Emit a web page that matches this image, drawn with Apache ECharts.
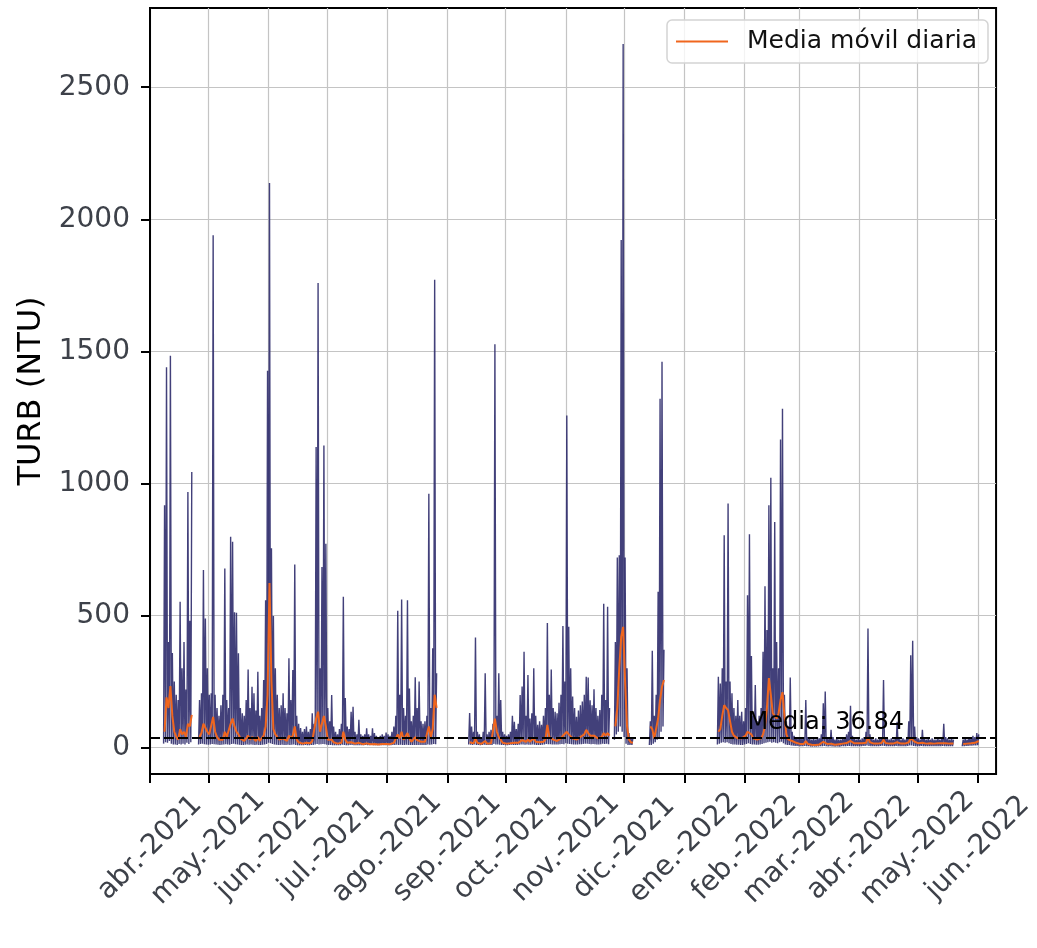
<!DOCTYPE html>
<html>
<head>
<meta charset="utf-8">
<script src="https://cdn.jsdelivr.net/npm/echarts@6/dist/echarts.min.js"></script>
<style>html,body{margin:0;padding:0;background:#fff}#c{width:1037px;height:948px}</style>
</head>
<body>
<div id="c"></div>
<script>
// ---- tick labels ----
const monthTicks = ['2021-04-01','2021-05-01','2021-06-01','2021-07-01','2021-08-01','2021-09-01','2021-10-01','2021-11-01','2021-12-01','2022-01-01','2022-02-01','2022-03-01','2022-04-01','2022-05-01','2022-06-01'];
const monthLabels = ['abr.-2021','may.-2021','jun.-2021','jul.-2021','ago.-2021','sep.-2021','oct.-2021','nov.-2021','dic.-2021','ene.-2022','feb.-2022','mar.-2022','abr.-2022','may.-2022','jun.-2022'];
const yTicks = [0, 500, 1000, 1500, 2000, 2500];
const meanValue = 36.84;
const seriesNames = ['TURB', 'Media móvil diaria'];

// ---- data segments (daily max, daily min, daily moving average) ----
const segStarts = ['2021-04-08','2021-04-26','2021-09-12','2021-11-26','2021-12-14','2022-01-18','2022-05-24'];

const hiA = [917,1440,400,1483,358,250,200,180,552,300,400,220,968,480,1043];
const loA = [15,20,18,25,15,12,12,10,14,12,15,12,18,14,20];
const maA = [60,190,150,233,120,60,40,30,70,50,60,40,90,80,124];

const hiB = [180,206,672,489,300,200,206,1940,200,150,
120,160,200,678,180,150,798,779,512,510,
357,150,130,120,180,296,150,230,206,140,
287,120,150,256,558,1427,2137,755,498,300,
200,150,160,206,150,130,338,180,294,693,
120,90,74,60,70,80,60,70,130,90,
1138,1759,300,684,1144,772,150,100,199,80,
60,50,70,90,571,188,80,70,136,155,
60,50,105,50,45,50,73,50,45,73,
55,45,40,45,50,45,57,50,45,60,
80,120,518,200,561,150,120,558,224,100,
120,266,150,250,100,90,100,120,961,150,
376,1771,281];
const loB = [12,14,15,13,12,11,12,14,13,12,
11,10,11,12,13,12,11,14,15,13,
12,11,10,10,11,12,11,12,11,10,
11,10,10,11,12,14,18,16,14,12,
11,10,10,11,10,10,11,10,11,12,
10,9,9,9,9,10,9,9,10,10,
12,14,12,13,14,13,11,10,10,9,
9,9,9,9,11,10,9,9,10,10,
9,9,9,9,9,9,10,9,9,10,
9,9,9,9,9,9,9,9,9,9,
10,10,11,10,11,10,10,11,10,10,
10,10,10,10,10,10,10,10,12,11,
12,14,13];
const maB = [40,55,90,75,60,50,45,116,60,40,
30,25,30,60,40,35,90,110,80,60,
50,35,30,25,30,45,30,40,35,25,
40,25,30,45,80,200,623,250,70,50,
40,30,30,35,30,25,45,35,45,80,
30,20,18,15,16,18,15,16,25,20,
110,136,60,90,120,80,30,25,30,20,
18,15,16,18,60,30,18,16,20,22,
15,14,18,14,13,14,16,14,13,16,
14,13,12,13,14,13,14,13,13,15,
18,25,50,35,60,30,25,55,35,22,
25,40,28,35,22,20,22,25,80,40,
70,200,150];

const hiC = [131,80,60,417,60,50,40,60,281,50,
60,67,90,1527,120,281,180,60,50,45,
50,60,120,98,70,90,199,231,363,120,
275,110,130,300,120,86,100,86,120,150,
472,200,296,150,136,130,170,200,460,250,
1257,457,300,193,150,117,140,160,174,200,
268,265,179,160,221,150,120,142,200,545,
180,533,150];
const loC = [12,11,10,12,10,10,9,10,11,10,
10,10,10,14,12,12,11,10,10,9,
9,10,11,10,10,10,11,12,12,11,
12,11,11,12,11,10,10,10,11,12,
14,13,13,12,12,12,12,13,14,13,
16,15,14,13,12,12,12,13,13,14,
15,15,14,13,14,13,12,12,13,15,
14,15,13];
const maC = [20,18,16,35,18,15,14,15,25,15,
15,16,20,110,60,40,30,18,16,15,
15,16,20,18,16,18,25,28,35,22,
30,22,24,35,22,18,20,18,22,30,
86,40,45,30,25,25,30,35,45,40,
60,50,45,35,35,30,35,40,45,50,
67,55,45,40,45,40,35,35,40,55,
45,55,45];

const hiD = [400,720,728,1922,2664,720,300,55,40,35];
const loD = [30,50,60,80,60,40,15,10,10,10];
const maD = [80,150,300,420,457,250,80,30,20,18];

const hiE = [100,367,120,200,590,1321,1461,370];
const loE = [10,10,15,20,30,40,60,80];
const maE = [80,70,35,40,110,180,230,256];

const hiF = [268,243,300,804,250,924,250,206,150,120,
180,120,136,100,150,577,808,347,120,237,
100,120,150,363,611,445,917,1022,300,854,
400,300,1166,1283,200,100,80,265,60,45,
40,35,40,35,40,180,40,35,30,35,
30,40,35,50,168,212,40,35,67,40,
30,35,30,30,35,40,50,60,158,45,
35,30,35,30,35,40,60,451,50,35,
30,35,30,35,40,256,40,35,30,35,
30,35,98,35,30,35,30,35,100,350,
404,80,40,35,30,67,35,30,35,30,
35,30,30,35,30,35,90,40,35,30,
35,30];
const loF = [12,15,18,20,18,20,16,14,12,12,
11,11,10,10,12,14,16,14,12,12,
11,11,12,14,16,18,20,22,18,20,
18,16,20,22,16,12,10,10,8,7,
6,6,5,5,5,6,5,5,4,4,
4,4,4,5,5,6,5,4,5,4,
4,4,4,4,5,5,5,6,6,5,
5,5,5,5,5,6,6,8,6,5,
5,5,5,5,6,7,6,5,5,5,
5,5,6,5,5,5,5,5,6,8,
8,6,5,5,5,6,5,5,5,5,
5,5,5,5,5,5,6,5,5,5,
5,5];
const maF = [60,70,120,161,150,142,100,60,45,40,
35,30,35,30,45,60,65,50,35,40,
30,30,35,50,80,150,263,200,130,120,
110,130,180,210,120,50,30,35,25,20,
18,15,14,13,14,25,14,12,11,10,
10,11,12,13,22,25,14,12,15,12,
11,12,13,14,15,16,17,18,25,18,
16,15,16,15,16,17,18,40,20,16,
15,16,15,16,17,30,17,16,15,16,
15,16,20,16,15,16,15,16,20,35,
40,22,17,16,15,18,16,15,15,16,
15,15,15,16,15,16,20,16,15,15,
15,15];

const hiG = [30,35,30,40,35,45,40,55,50];
const loG = [5,5,6,6,7,7,8,8,9];
const maG = [14,15,15,16,16,18,18,22,25];

// ---- build series data ----
function toTs(s) {
  const p = s.split('-').map(Number);
  return new Date(p[0], p[1] - 1, p[2]).getTime();
}
const DAY = 86400000;
const segHi = [hiA, hiB, hiC, hiD, hiE, hiF, hiG];
const segLo = [loA, loB, loC, loD, loE, loF, loG];
const segMa = [maA, maB, maC, maD, maE, maF, maG];
const rawData = [];
const avgData = [];
segStarts.forEach(function (s, k) {
  const t0 = toTs(s);
  const n = segHi[k].length;
  for (let i = 0; i < n; i++) {
    const t = t0 + i * DAY;
    rawData.push([t, segLo[k][i]]);
    rawData.push([t + DAY / 2, segHi[k][i]]);
    avgData.push([t + DAY / 2, segMa[k][i]]);
  }
  rawData.push([t0 + n * DAY, '-']);
  avgData.push([t0 + n * DAY, '-']);
});
const tickTs = monthTicks.map(toTs);

const FONT = 'DejaVu Sans';
const chart = echarts.init(document.getElementById('c'), null, {renderer: 'canvas'});
chart.setOption({
  animation: false,
  backgroundColor: '#ffffff',
  grid: {left: 150, right: 39, top: 8, bottom: 174, show: true, borderColor: '#000', borderWidth: 2, containLabel: false},
  legend: {
    data: [seriesNames[1]],
    left: 667, top: 20,
    orient: 'horizontal',
    padding: [9, 11, 9, 9],
    itemWidth: 52, itemHeight: 2,
    icon: 'rect',
    backgroundColor: 'rgba(255,255,255,0.8)',
    borderColor: '#d4d4d4', borderWidth: 1.5, borderRadius: 5,
    textStyle: {fontFamily: FONT, fontSize: 25, color: '#111', padding: [0, 0, 0, 14]}
  },
  xAxis: {
    type: 'value',
    min: toTs('2021-04-01'),
    max: new Date(2022, 5, 10, 10).getTime(),
    axisLine: {show: true, onZero: false, lineStyle: {color: '#000', width: 2}},
    axisTick: {show: true, length: 9, lineStyle: {color: '#000', width: 2}, customValues: tickTs},
    splitLine: {show: true, lineStyle: {color: '#c4c4c4', width: 1.2}},
    axisLabel: {
      customValues: tickTs,
      rotate: 45, align: 'center', verticalAlign: 'middle', margin: 74,
      fontFamily: FONT, fontSize: 28, color: '#3d4149',
      hideOverlap: false,
      formatter: function (v) {
        for (let i = 0; i < tickTs.length; i++) {
          if (Math.abs(tickTs[i] - v) < DAY) return monthLabels[i];
        }
        return '';
      }
    }
  },
  yAxis: {
    type: 'value',
    min: -100, max: 2800,
    name: 'TURB (NTU)',
    nameLocation: 'middle', nameGap: 91,
    nameTextStyle: {fontFamily: FONT, fontSize: 32, color: '#000'},
    axisLine: {show: true, onZero: false, lineStyle: {color: '#000', width: 2}},
    axisTick: {show: true, length: 9, lineStyle: {color: '#000', width: 2}, customValues: yTicks},
    splitLine: {show: true, lineStyle: {color: '#c4c4c4', width: 1.2}},
    axisLabel: {customValues: yTicks, margin: 20, fontFamily: FONT, fontSize: 28, color: '#3d4149',
      formatter: function (v) { return String(v); }}
  },
  series: [
    {
      name: seriesNames[0], type: 'line', data: rawData,
      showSymbol: false, symbol: 'none', sampling: null, connectNulls: false,
      lineStyle: {color: '#2d2b6b', width: 1.4, opacity: 0.9},
      itemStyle: {color: '#2d2b6b'}, z: 2, silent: true
    },
    {
      name: seriesNames[1], type: 'line', data: avgData,
      showSymbol: false, symbol: 'none', connectNulls: false,
      lineStyle: {color: '#f0661e', width: 2},
      itemStyle: {color: '#f0661e'}, z: 3, silent: true,
      markLine: {
        silent: true, symbol: ['none', 'none'],
        label: {show: false},
        lineStyle: {color: '#000', type: [10, 4], width: 2},
        data: [{yAxis: meanValue}]
      },
      markPoint: {
        silent: true,
        symbol: 'rect', symbolSize: [2, 2],
        itemStyle: {color: 'rgba(0,0,0,0)'},
        label: {show: true, position: 'right', distance: 0, offset: [0, -15], fontFamily: FONT, fontSize: 24, color: '#000',
          formatter: 'Media: ' + meanValue.toFixed(2)},
        data: [{coord: [toTs('2022-02-02'), meanValue]}]
      }
    }
  ]
});
</script>
</body>
</html>
